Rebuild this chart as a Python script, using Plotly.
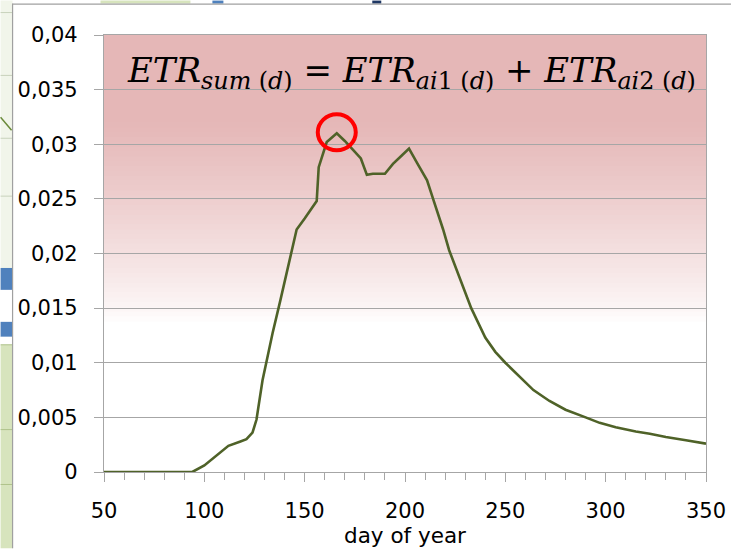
import plotly.graph_objects as go

# ---------------- data ----------------
days = [50, 60, 70, 80, 90, 94, 100, 106, 112, 118, 121, 124, 126, 129, 134, 138,
        142, 146, 150, 153, 156, 157, 161, 166, 170, 174, 178, 181, 184, 190, 194,
        198, 202, 206, 211, 214, 219, 222, 227, 233, 240, 245, 250, 256, 264, 272,
        280, 290, 297, 305, 315, 322, 330, 340, 350]
etr_sum = [0, 0, 0, 0, 0, 0, 0.0006, 0.0015, 0.0024, 0.0028, 0.0030, 0.0036, 0.0048,
           0.0084, 0.0127, 0.0158, 0.0190, 0.0222, 0.0232, 0.0240, 0.0248, 0.0279,
           0.0302, 0.0310, 0.0303, 0.0295, 0.0287, 0.0272, 0.0273, 0.0273, 0.0282,
           0.0289, 0.0296, 0.0283, 0.0267, 0.0250, 0.0222, 0.0203, 0.0179, 0.0150,
           0.0123, 0.0110, 0.0100, 0.0089, 0.0075, 0.0065, 0.0057, 0.0050, 0.0045,
           0.0041, 0.0037, 0.0035, 0.0032, 0.0029, 0.0026]
y_ticks = [0, 0.005, 0.01, 0.015, 0.02, 0.025, 0.03, 0.035, 0.04]
y_tick_labels = ["0", "0,005", "0,01", "0,015", "0,02", "0,025", "0,03", "0,035", "0,04"]
x_ticks = [50, 100, 150, 200, 250, 300, 350]
x_tick_labels = ["50", "100", "150", "200", "250", "300", "350"]
peak_day = 166
peak_value = 0.0310

# ---------------- layout geometry ----------------
W, H = 731, 549
L, R, T, B = 103.5, 25, 34.5, 76.5
PW = W - L - R
PH = H - T - B


def px(xp):
    return (xp - L) / PW


def py(yp):
    return (H - B - yp) / PH


GRID = "#A6A6A6"
LINE = "#4F6228"
FONT = "DejaVu Sans"

fig = go.Figure()
fig.add_trace(go.Scatter(x=days, y=etr_sum, mode="lines",
                         line=dict(color=LINE, width=2.6), showlegend=False,
                         hoverinfo="x+y"))

shapes = []
# gradient background in plot area
pink = (229, 183, 183)
N = 90
for i in range(N):
    f0 = i / N
    f1 = (i + 1) / N
    fm = (f0 + f1) / 2
    t = (fm - 0.34) / (0.80 - 0.34)
    t = max(0.0, min(1.0, t))
    t = t ** 0.8
    c = tuple(round(255 + (p - 255) * t) for p in pink)
    shapes.append(dict(type="rect", xref="x domain", yref="y domain",
                       x0=0, x1=1, y0=f0, y1=f1 + 0.002, line=dict(width=0),
                       fillcolor="rgb(%d,%d,%d)" % c, layer="below"))


def rect(x0, y0, x1, y1, color):
    shapes.append(dict(type="rect", xref="paper", yref="paper",
                       x0=px(x0), x1=px(x1), y0=py(y1), y1=py(y0),
                       fillcolor=color, line=dict(width=0), layer="below"))


def hline(x0, x1, yp, color, width=1):
    shapes.append(dict(type="line", xref="paper", yref="paper",
                       x0=px(x0), x1=px(x1), y0=py(yp), y1=py(yp),
                       line=dict(color=color, width=width), layer="below"))


def vline(xp, y0, y1, color, width=1):
    shapes.append(dict(type="line", xref="paper", yref="paper",
                       x0=px(xp), x1=px(xp), y0=py(y0), y1=py(y1),
                       line=dict(color=color, width=width), layer="below"))


# left strip: pieces of another window behind the chart
rect(0, 0, 12, 268, "#F1F5EA")
for yy in [12, 75, 138, 196]:
    hline(0, 12, yy, "#C8D2BC")
shapes.append(dict(type="line", xref="paper", yref="paper", x0=px(0), x1=px(11),
                   y0=py(117), y1=py(130), line=dict(color="#6A8A3A", width=1.5),
                   layer="below"))
rect(0, 268, 12, 290, "#4F81BD")
rect(0, 290, 12, 322, "#FFFFFF")
rect(0, 322, 12, 337, "#4F81BD")
rect(0, 337, 12, 345, "#FFFFFF")
rect(0, 345, 12, 549, "#D7E4BD")
for yy in [345, 430, 485]:
    hline(0, 12, yy, "#AFC28A")
# top strip of the window behind
rect(100, 0, 190, 3, "#D7E4BD")
rect(212, 0, 223, 3, "#4F81BD")
rect(372, 0, 381, 3, "#1F3864")
# chart frame edges
vline(12, 3, 549, "#A0A0A0", 1.2)
hline(12, 731, 3.5, "#A0A0A0", 1.2)

# red circle around peak
shapes.append(dict(type="circle", xref="x", yref="y", xsizemode="pixel",
                   ysizemode="pixel", xanchor=peak_day, yanchor=peak_value,
                   x0=-19, x1=19, y0=-17, y1=19,
                   line=dict(color="#FF0000", width=4), layer="above"))

fig.update_layout(
    width=W, height=H,
    margin=dict(l=L, r=R, t=T, b=B, pad=0, autoexpand=False),
    paper_bgcolor="white", plot_bgcolor="rgba(0,0,0,0)",
    shapes=shapes,
    showlegend=False,
    font=dict(family=FONT, size=20, color="#000000"),
)

fig.update_xaxes(
    range=[50, 350], tickmode="array", tickvals=x_ticks, ticktext=x_tick_labels,
    showgrid=False, zeroline=False, automargin=False,
    showline=True, linecolor=GRID, linewidth=1.3, mirror=True,
    ticks="outside", ticklen=9, tickcolor=GRID, tickwidth=1.3,
    minor=dict(dtick=10, tick0=50, ticks="outside", ticklen=7, tickcolor=GRID,
               tickwidth=1.3, showgrid=False),
    tickfont=dict(family=FONT, size=21, color="#000"),
    ticklabelstandoff=11,
    title=dict(text="day of year", font=dict(family=FONT, size=21.5, color="#000"),
               standoff=3),
)
fig.update_yaxes(
    range=[0, 0.04], tickmode="array", tickvals=y_ticks, ticktext=y_tick_labels,
    showgrid=True, gridcolor=GRID, gridwidth=1.3, zeroline=False, automargin=False,
    showline=True, linecolor=GRID, linewidth=1.3, mirror=True,
    ticks="outside", ticklen=9, tickcolor=GRID, tickwidth=1.3,
    tickfont=dict(family=FONT, size=21, color="#000"),
    ticklabelstandoff=12,
)

formula = ("<i>ETR</i><sub><i>sum</i> (<i>d</i>)</sub> = "
           "<i>ETR</i><sub><i>ai</i>1 (<i>d</i>)</sub> + "
           "<i>ETR</i><sub><i>ai</i>2 (<i>d</i>)</sub>")
fig.add_annotation(x=px(698), y=py(72), xref="paper", yref="paper",
                   xanchor="right", yanchor="middle", text=formula, showarrow=False,
                   font=dict(family="DejaVu Serif", size=34, color="#000"))

fig.write_html("out.html")
